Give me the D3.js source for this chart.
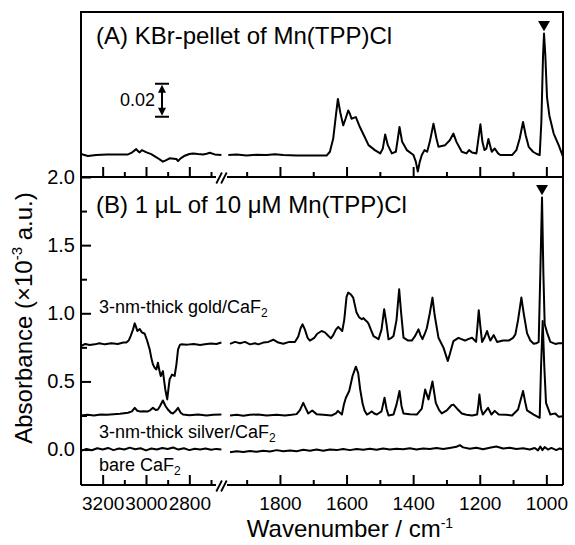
<!DOCTYPE html>
<html>
<head>
<meta charset="utf-8">
<script src="https://cdn.jsdelivr.net/npm/d3@7"></script>
<style>
    body { margin: 0; background: #fff; }
    text { font-family: "Liberation Sans", Arial, sans-serif; fill: #000; }
</style>
</head>
<body>
<div id="chart"></div>
<script>
let width = 575, height = 545

// wavenumber ranges on either side of the axis break
let leftDomain = [3300, 2640]
let rightDomain = [1950, 950]

let leftTicks = [3200, 3000, 2800]
let leftMinor = [3100, 2900, 2700]
let rightTicks = [1800, 1600, 1400, 1200, 1000]
let rightMinor = [1900, 1700, 1500, 1300, 1100]
let yTicks = [0.0, 0.5, 1.0, 1.5, 2.0]
let yMinor = [0.25, 0.75, 1.25, 1.75]

// (A) KBr pellet, absorbance [wavenumber, A]
let kbrLeft = [
    [3300, 0.0006], [3268, -0.0006], [3230, 0.0], [3180, 0.0003], [3130, 0.0004], [3083, 0.0004],
    [3065, 0.0015], [3045, 0.0036], [3037, 0.0024], [3029, 0.0016], [3019, 0.003], [3000, 0.0018],
    [2976, 0.0006], [2950, -0.0015], [2922, -0.004], [2911, -0.0034], [2891, -0.002], [2872, -0.0022],
    [2860, -0.0024], [2852, -0.0036], [2840, -0.002], [2821, -0.0004], [2800, 0.0006], [2783, 0.001],
    [2760, 0.0006], [2737, 0.0004], [2720, 0.0008], [2706, 0.0014], [2683, 0.0004], [2652, 0.0]
]
let kbrRight = [
    [1955, 0.0], [1930, 0.0003], [1900, -0.0002], [1870, 0.0002], [1840, 0.0], [1815, 0.0005],
    [1790, 0.0], [1750, -0.0002], [1700, -0.0003], [1660, -0.0003], [1650, 0.002], [1640, 0.01],
    [1632, 0.024], [1626, 0.034], [1619, 0.026], [1610, 0.018], [1603, 0.022], [1595, 0.027],
    [1590, 0.025], [1585, 0.022], [1579, 0.0225], [1572, 0.023], [1560, 0.017], [1548, 0.012],
    [1534, 0.006], [1515, 0.003], [1499, 0.001], [1491, 0.004], [1484, 0.0125], [1476, 0.006],
    [1464, 0.001], [1452, 0.002], [1446, 0.01], [1441, 0.017], [1433, 0.008], [1419, 0.003],
    [1399, 0.0], [1392, -0.004], [1386, -0.010], [1380, -0.004], [1374, 0.0], [1366, 0.003],
    [1358, 0.002], [1350, 0.008], [1339, 0.019], [1330, 0.01], [1324, 0.005], [1304, 0.006],
    [1290, 0.009], [1279, 0.013], [1270, 0.008], [1254, 0.002], [1240, 0.001], [1232, 0.003],
    [1223, 0.0015], [1210, 0.001], [1204, 0.01], [1198, 0.0186], [1192, 0.008], [1186, 0.003],
    [1180, 0.004], [1174, 0.0097], [1168, 0.005], [1164, 0.002], [1155, 0.004], [1145, 0.001],
    [1138, 0.0], [1103, 0.0], [1090, 0.003], [1080, 0.01], [1070, 0.020], [1062, 0.012],
    [1053, 0.005], [1040, 0.002], [1030, 0.0008], [1020, 0.0], [1015, 0.02], [1010, 0.06],
    [1007, 0.0737], [1003, 0.06], [998, 0.035], [991, 0.024], [978, 0.013], [963, 0.006], [950, -0.001]
]

// (B) 1 uL of 10 uM, x10^-3 a.u., offsets included
let goldLeft = [
    [3300, 0.76], [3280, 0.775], [3260, 0.768], [3237, 0.772], [3215, 0.78], [3190, 0.772],
    [3160, 0.78], [3130, 0.775], [3105, 0.785], [3091, 0.785], [3080, 0.8], [3071, 0.833],
    [3060, 0.88], [3052, 0.926], [3046, 0.9], [3040, 0.87], [3029, 0.885], [3019, 0.86],
    [3006, 0.85], [2995, 0.80], [2983, 0.735], [2975, 0.67], [2968, 0.625], [2960, 0.60],
    [2952, 0.588], [2945, 0.637], [2938, 0.58], [2932, 0.539], [2922, 0.576], [2916, 0.5],
    [2911, 0.441], [2902, 0.368], [2896, 0.45], [2891, 0.515], [2880, 0.55], [2868, 0.54],
    [2860, 0.62], [2852, 0.735], [2843, 0.77], [2837, 0.772], [2810, 0.77], [2780, 0.775],
    [2750, 0.768], [2729, 0.772], [2700, 0.778], [2675, 0.775], [2652, 0.785]
]
let goldRight = [
    [1950, 0.775], [1935, 0.79], [1920, 0.78], [1905, 0.79], [1890, 0.772], [1875, 0.78],
    [1865, 0.772], [1850, 0.785], [1835, 0.79], [1820, 0.806], [1805, 0.785], [1790, 0.777],
    [1772, 0.79], [1755, 0.79], [1745, 0.83], [1738, 0.89], [1732, 0.919], [1725, 0.88],
    [1717, 0.82], [1710, 0.80], [1697, 0.82], [1688, 0.85], [1675, 0.87], [1665, 0.86],
    [1655, 0.835], [1647, 0.816], [1640, 0.84], [1632, 0.88], [1625, 0.90], [1613, 0.87],
    [1607, 0.95], [1600, 1.12], [1595, 1.152], [1588, 1.14], [1580, 1.115], [1575, 1.06],
    [1570, 1.005], [1562, 0.97], [1554, 0.956], [1549, 0.965], [1544, 0.95], [1539, 0.94],
    [1534, 0.924], [1527, 0.88], [1519, 0.833], [1504, 0.81], [1495, 0.88], [1487, 1.03],
    [1480, 0.92], [1474, 0.809], [1465, 0.82], [1459, 0.833], [1450, 0.95], [1442, 1.176],
    [1436, 1.0], [1429, 0.821], [1415, 0.80], [1404, 0.80], [1395, 0.83], [1384, 0.882],
    [1378, 0.84], [1372, 0.81], [1365, 0.85], [1359, 0.89], [1350, 1.0], [1342, 1.115],
    [1335, 0.98], [1324, 0.821], [1309, 0.748], [1300, 0.68], [1296, 0.65], [1290, 0.7],
    [1279, 0.796], [1264, 0.82], [1255, 0.81], [1244, 0.80], [1235, 0.81], [1223, 0.82],
    [1211, 0.79], [1207, 0.9], [1203, 1.022], [1198, 0.9], [1193, 0.79], [1186, 0.82],
    [1178, 0.87], [1173, 0.83], [1168, 0.80], [1158, 0.84], [1148, 0.79], [1130, 0.80],
    [1113, 0.80], [1100, 0.82], [1093, 0.845], [1085, 0.95], [1075, 1.115], [1068, 1.0],
    [1058, 0.855], [1048, 0.8], [1038, 0.777], [1030, 0.78], [1023, 0.79], [1019, 1.2],
    [1013, 1.85], [1009, 1.3], [1005, 0.92], [998, 0.86], [988, 0.79], [973, 0.775],
    [963, 0.78], [953, 0.78]
]
let silverLeft = [
    [3300, 0.25], [3270, 0.255], [3240, 0.25], [3210, 0.257], [3180, 0.255], [3150, 0.26],
    [3120, 0.262], [3083, 0.27], [3065, 0.28], [3052, 0.306], [3040, 0.285], [3029, 0.28],
    [3010, 0.282], [2991, 0.28], [2980, 0.29], [2968, 0.306], [2955, 0.29], [2945, 0.294],
    [2935, 0.32], [2922, 0.36], [2910, 0.32], [2899, 0.294], [2885, 0.27], [2876, 0.265],
    [2862, 0.285], [2852, 0.306], [2840, 0.27], [2829, 0.257], [2800, 0.252], [2760, 0.257],
    [2720, 0.25], [2690, 0.255], [2652, 0.257]
]
let silverRight = [
    [1950, 0.25], [1930, 0.255], [1910, 0.248], [1890, 0.255], [1865, 0.257], [1840, 0.25],
    [1810, 0.255], [1785, 0.25], [1765, 0.255], [1750, 0.26], [1740, 0.29], [1730, 0.343],
    [1722, 0.3], [1715, 0.265], [1703, 0.287], [1690, 0.26], [1670, 0.255], [1645, 0.25],
    [1632, 0.265], [1626, 0.284], [1614, 0.257], [1608, 0.33], [1602, 0.38], [1592, 0.43],
    [1582, 0.54], [1572, 0.608], [1565, 0.56], [1559, 0.44], [1552, 0.34], [1546, 0.287],
    [1539, 0.257], [1530, 0.27], [1524, 0.28], [1517, 0.265], [1509, 0.257], [1495, 0.28],
    [1486, 0.38], [1480, 0.3], [1474, 0.25], [1459, 0.257], [1450, 0.33], [1441, 0.43],
    [1435, 0.32], [1429, 0.265], [1410, 0.26], [1389, 0.257], [1374, 0.30], [1364, 0.44],
    [1354, 0.368], [1342, 0.50], [1332, 0.343], [1322, 0.29], [1314, 0.265], [1299, 0.287],
    [1285, 0.325], [1279, 0.33], [1268, 0.3], [1254, 0.265], [1240, 0.255], [1223, 0.25],
    [1208, 0.257], [1204, 0.33], [1201, 0.404], [1196, 0.3], [1191, 0.257], [1175, 0.306],
    [1165, 0.257], [1155, 0.284], [1143, 0.257], [1120, 0.255], [1103, 0.25], [1085, 0.294],
    [1070, 0.43], [1062, 0.33], [1058, 0.287], [1038, 0.257], [1020, 0.233], [1016, 0.6],
    [1011, 0.943], [1006, 0.6], [1001, 0.343], [988, 0.257], [980, 0.262], [973, 0.265],
    [963, 0.24], [950, 0.245]
]
let bareLeft = [
    [3300, -0.01], [3275, 0.005], [3250, -0.005], [3225, 0.01], [3200, 0.0], [3175, 0.012],
    [3150, -0.004], [3125, 0.008], [3100, 0.0], [3075, 0.014], [3050, 0.002], [3025, 0.01],
    [3000, -0.006], [2975, 0.008], [2950, 0.0], [2925, 0.012], [2900, 0.004], [2875, 0.015],
    [2850, 0.0], [2825, 0.01], [2800, -0.004], [2775, 0.006], [2750, 0.0], [2725, 0.008],
    [2700, -0.002], [2675, 0.005], [2652, 0.0]
]
let bareRight = [
    [1950, -0.02], [1930, -0.012], [1910, -0.018], [1890, -0.01], [1870, -0.016], [1850, -0.008],
    [1830, -0.014], [1810, -0.004], [1790, -0.012], [1770, -0.006], [1750, -0.012], [1730, -0.002],
    [1710, -0.008], [1690, 0.0], [1670, -0.008], [1650, 0.0], [1630, -0.004], [1610, 0.004],
    [1590, -0.004], [1570, 0.004], [1550, -0.002], [1530, 0.006], [1510, -0.002], [1490, 0.008],
    [1470, 0.0], [1450, 0.006], [1430, 0.002], [1410, 0.01], [1390, 0.0], [1370, 0.008],
    [1350, 0.004], [1330, 0.012], [1310, 0.004], [1290, 0.012], [1270, 0.02], [1260, 0.032],
    [1250, 0.016], [1230, 0.006], [1210, 0.014], [1190, 0.002], [1170, 0.014], [1150, 0.022],
    [1130, 0.008], [1110, 0.014], [1090, 0.004], [1070, 0.01], [1050, 0.0], [1035, 0.012],
    [1025, -0.006], [1018, 0.022], [1012, -0.004], [1005, 0.018], [995, 0.0], [985, 0.012],
    [970, -0.004], [960, 0.008], [950, 0.0]
]

let plotLeft = 81, plotRight = 563, plotTop = 12, plotMid = 177, plotBottom = 485
let breakX = 221.5

let xLeft = d3.scaleLinear().domain(leftDomain).range([plotLeft, 224])
let xRight = d3.scaleLinear().domain(rightDomain).range([230, plotRight])
let yA = d3.scaleLinear().domain([-0.0133, 0.0867]).range([plotMid, plotTop])
let yB = d3.scaleLinear().domain([-0.26, 2.0]).range([plotBottom, plotMid])

const svg = d3.select('#chart')
    .append('svg')
    .attr('width', width)
    .attr('height', height)

// frame: left, top, right
svg.append('path')
    .attr('d', `M${plotLeft},${plotBottom}V${plotTop}H${plotRight}V${plotBottom}`)
    .attr('fill', 'none')
    .attr('stroke', 'black')
    .attr('stroke-width', 2)

function drawXAxis(y, showLabels) {
    // broken axis line
    svg.append('path')
        .attr('d', `M${plotLeft},${y}H${breakX - 5.5}M${breakX + 5.5},${y}H${plotRight}`)
        .attr('stroke', 'black')
        .attr('stroke-width', 2)
    ;[-2.4, 2.4].forEach(dx => {
        svg.append('line')
            .attr('x1', breakX + dx - 2.8).attr('y1', y + 6.5)
            .attr('x2', breakX + dx + 2.8).attr('y2', y - 4.5)
            .attr('stroke', 'black')
            .attr('stroke-width', 1.8)
    })

    let parts = [[xLeft, leftTicks, leftMinor], [xRight, rightTicks, rightMinor]]
    parts.forEach(([scale, major, minor]) => {
        const g = svg.append('g')
            .attr('transform', `translate(0,${y})`)
            .call(d3.axisBottom(scale)
                .tickValues(major)
                .tickSizeInner(-10)
                .tickSizeOuter(0)
                .tickPadding(12)
                .tickFormat(showLabels ? d3.format('d') : ''))
        g.select('.domain').remove()
        g.selectAll('line').attr('stroke-width', 2)
        g.selectAll('text')
            .attr('font-size', 19)
            .attr('font-family', '"Liberation Sans", Arial, sans-serif')

        const gm = svg.append('g')
            .attr('transform', `translate(0,${y})`)
            .call(d3.axisBottom(scale)
                .tickValues(minor)
                .tickSizeInner(-5)
                .tickSizeOuter(0)
                .tickFormat(''))
        gm.select('.domain').remove()
        gm.selectAll('line').attr('stroke-width', 2)
    })
}

drawXAxis(plotMid, false)
drawXAxis(plotBottom, true)

// y axis of panel B
const gy = svg.append('g')
    .attr('transform', `translate(${plotLeft},0)`)
    .call(d3.axisLeft(yB)
        .tickValues(yTicks)
        .tickSizeInner(-10)
        .tickSizeOuter(0)
        .tickPadding(6)
        .tickFormat(d3.format('.1f')))
gy.select('.domain').remove()
gy.selectAll('line').attr('stroke-width', 2)
gy.selectAll('text')
    .attr('font-size', 20)
    .attr('font-family', '"Liberation Sans", Arial, sans-serif')

const gym = svg.append('g')
    .attr('transform', `translate(${plotLeft},0)`)
    .call(d3.axisLeft(yB)
        .tickValues(yMinor)
        .tickSizeInner(-6)
        .tickSizeOuter(0)
        .tickFormat(''))
gym.select('.domain').remove()
gym.selectAll('line').attr('stroke-width', 2)

// spectra
function drawLine(data, xs, ys) {
    let line = d3.line()
        .x(d => xs(d[0]))
        .y(d => ys(d[1]))
    svg.append('path')
        .datum(data)
        .attr('d', line)
        .attr('fill', 'none')
        .attr('stroke', 'black')
        .attr('stroke-width', 2)
        .attr('stroke-linejoin', 'round')
}

drawLine(kbrLeft, xLeft, yA)
drawLine(kbrRight, xRight, yA)
drawLine(goldLeft, xLeft, yB)
drawLine(goldRight, xRight, yB)
drawLine(silverLeft, xLeft, yB)
drawLine(silverRight, xRight, yB)
drawLine(bareLeft, xLeft, yB)
drawLine(bareRight, xRight, yB)

// peak markers
let tri = d3.symbol().type(d3.symbolTriangle).size(62)
svg.append('path')
    .attr('d', tri)
    .attr('transform', `translate(${xRight(1007)},${yA(0.0737) - 9}) rotate(180)`)
svg.append('path')
    .attr('d', tri)
    .attr('transform', `translate(${xRight(1013)},${yB(1.85) - 9}) rotate(180)`)

// 0.02 scale bar
let barX = 162
let barTop = yA(0.0432), barBot = yA(0.0232)
svg.append('path')
    .attr('d', `M${barX - 7},${barTop}H${barX + 7}M${barX - 7},${barBot}H${barX + 7}M${barX},${barTop + 4}V${barBot - 4}`)
    .attr('stroke', 'black')
    .attr('stroke-width', 2)
svg.append('path')
    .attr('d', `M${barX},${barTop + 1}l-4,8h8z M${barX},${barBot - 1}l-4,-8h8z`)
    .attr('fill', 'black')
svg.append('text')
    .attr('x', 155)
    .attr('y', (barTop + barBot) / 2 + 6)
    .attr('text-anchor', 'end')
    .attr('font-size', 18)
    .text('0.02')

// panel titles
svg.append('text')
    .attr('x', 96).attr('y', 44)
    .attr('font-size', 24)
    .text('(A) KBr-pellet of Mn(TPP)Cl')
svg.append('text')
    .attr('x', 96).attr('y', 213)
    .attr('font-size', 24)
    .text('(B) 1 \u03bcL of 10 \u03bcM Mn(TPP)Cl')

// sample labels with subscript
function label(x, y, main, sub) {
    const t = svg.append('text')
        .attr('x', x).attr('y', y)
        .attr('font-size', 18)
    t.append('tspan').text(main)
    t.append('tspan').attr('font-size', 12).attr('dy', 4).text(sub)
}
label(99, 313, '3-nm-thick gold/CaF', '2')
label(99, 438, '3-nm-thick silver/CaF', '2')
label(99, 471, 'bare CaF', '2')

// axis titles
const xt = svg.append('text')
    .attr('x', 350).attr('y', 537)
    .attr('text-anchor', 'middle')
    .attr('font-size', 24)
xt.append('tspan').text('Wavenumber / cm')
xt.append('tspan').attr('font-size', 14).attr('dy', -9).text('-1')

const yt = svg.append('text')
    .attr('transform', `translate(32,318) rotate(-90)`)
    .attr('text-anchor', 'middle')
    .attr('font-size', 24)
yt.append('tspan').text('Absorbance (\u00d710')
yt.append('tspan').attr('font-size', 15).attr('dy', -10).text('-3')
yt.append('tspan').attr('dy', 10).text(' a.u.)')
</script>
</body>
</html>
